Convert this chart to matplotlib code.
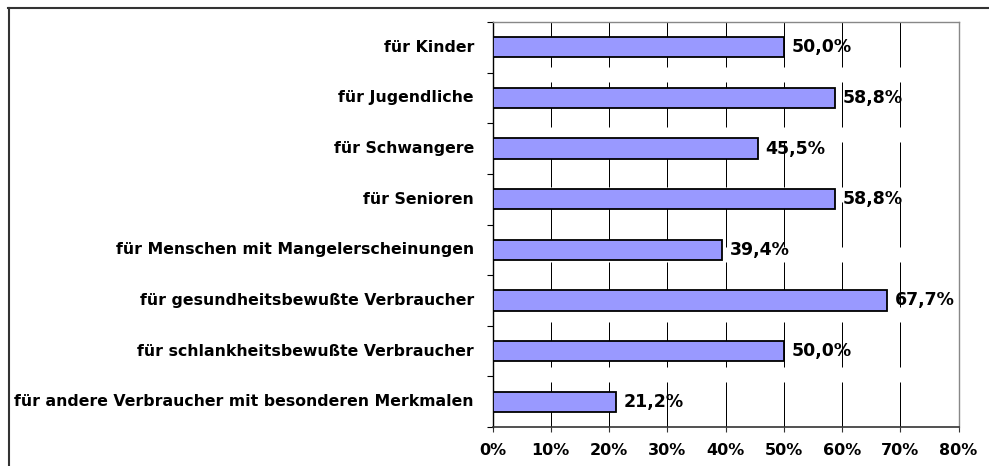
import matplotlib
matplotlib.use("Agg")
import matplotlib.pyplot as plt
from matplotlib.lines import Line2D

categories = [
    "für Kinder",
    "für Jugendliche",
    "für Schwangere",
    "für Senioren",
    "für Menschen mit Mangelerscheinungen",
    "für gesundheitsbewußte Verbraucher",
    "für schlankheitsbewußte Verbraucher",
    "für andere Verbraucher mit besonderen Merkmalen",
]
values = [50.0, 58.8, 45.5, 58.8, 39.4, 67.7, 50.0, 21.2]
xticks = [0, 10, 20, 30, 40, 50, 60, 70, 80]
xtick_labels = ["0%", "10%", "20%", "30%", "40%", "50%", "60%", "70%", "80%"]

plt.rcParams["font.family"] = ["DejaVu Sans"]
plt.rcParams["font.weight"] = "bold"

W, H = 989, 466
fig = plt.figure(figsize=(W / 100, H / 100), dpi=100)
fig.patch.set_facecolor("white")

left, right, top, bottom = 492.5, 958.5, 22, 427
ax = fig.add_axes([left / W, 1 - bottom / H, (right - left) / W, (bottom - top) / H])
pxu = (right - left) / 80.0  # pixels per data unit

n = len(categories)
ypos = [n - 1 - i for i in range(n)]
ax.barh(ypos, values, height=0.4, color="#9999FF", edgecolor="black",
        linewidth=1.3, zorder=3)

ax.set_xlim(0, 80)
ax.set_ylim(-0.5, n - 0.5)

ax.set_xticks(xticks)
ax.set_xticklabels(xtick_labels, fontsize=11.5, fontweight="bold")
ax.xaxis.grid(True, color="black", linewidth=0.72, linestyle=(0, (45, 15)), zorder=0)
ax.set_axisbelow(True)

ax.set_yticks([y + 0.5 for y in range(-1, n)])
ax.set_yticklabels([])
ax.tick_params(axis="y", direction="out", length=4.3, width=0.8, color="black")
ax.tick_params(axis="x", direction="out", length=3.6, width=0.8, color="#333333", pad=8)

for y, lab in zip(ypos, categories):
    ax.text(-18.5 / pxu, y, lab, ha="right", va="center",
            fontsize=11.3, fontweight="bold", color="black")

for y, v in zip(ypos, values):
    ax.text(v + 8 / pxu, y, f"{v:.1f}".replace(".", ",") + "%",
            ha="left", va="center", fontsize=12.5, fontweight="bold", color="black",
            zorder=4)

for s in ["top", "right"]:
    ax.spines[s].set_color("#888888")
    ax.spines[s].set_linewidth(1.0)
ax.spines["left"].set_color("black")
ax.spines["left"].set_linewidth(1.0)
ax.spines["bottom"].set_color("#333333")
ax.spines["bottom"].set_linewidth(1.2)

fig.add_artist(Line2D([8 / W, 1.0], [1 - 7.5 / H, 1 - 7.5 / H], transform=fig.transFigure,
                      color="#333333", linewidth=1.5))
fig.add_artist(Line2D([8.5 / W, 8.5 / W], [1 - 7.5 / H, 0.0], transform=fig.transFigure,
                      color="#333333", linewidth=1.5))

fig.savefig("out.png", dpi=100)
